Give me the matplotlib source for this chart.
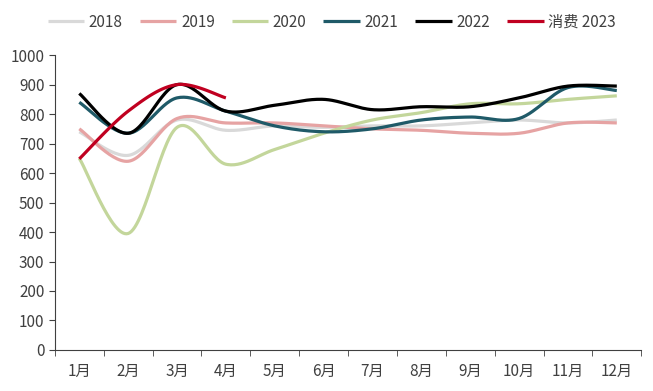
import numpy as np
import matplotlib
matplotlib.use("Agg")
import matplotlib.pyplot as plt

plt.rcParams['font.family'] = ['Noto Sans CJK SC', 'DejaVu Sans']

months = ["1月", "2月", "3月", "4月", "5月", "6月", "7月", "8月", "9月", "10月", "11月", "12月"]
s2018 = [740, 660, 780, 745, 760, 755, 760, 760, 770, 780, 770, 780]
s2019 = [750, 640, 785, 770, 770, 760, 750, 745, 735, 735, 770, 770]
s2020 = [650, 395, 755, 630, 680, 735, 780, 805, 835, 835, 850, 862]
s2021 = [840, 735, 855, 810, 760, 740, 750, 780, 790, 785, 890, 880]
s2022 = [870, 735, 900, 810, 830, 850, 815, 825, 825, 855, 895, 895]
s2023 = [648, 810, 900, 855]

series = [("2018", s2018, "#d9d9d9"), ("2019", s2019, "#e6a3a3"),
          ("2020", s2020, "#c3d69b"), ("2021", s2021, "#1f5a68"),
          ("2022", s2022, "#000000"), ("消费 2023", s2023, "#c00020")]


def smooth(x, y, n=30):
    x = np.asarray(x, float); y = np.asarray(y, float)
    px = np.concatenate([[x[0]], x, [x[-1]]])
    py = np.concatenate([[y[0]], y, [y[-1]]])
    xs, ys = [], []
    for i in range(len(x) - 1):
        p0 = np.array([px[i], py[i]]); p1 = np.array([px[i + 1], py[i + 1]])
        p2 = np.array([px[i + 2], py[i + 2]]); p3 = np.array([px[i + 3], py[i + 3]])
        c1 = p1 + (p2 - p0) / 6.0
        c2 = p2 - (p3 - p1) / 6.0
        t = np.linspace(0, 1, n)[:, None]
        b = (1 - t) ** 3 * p1 + 3 * (1 - t) ** 2 * t * c1 + 3 * (1 - t) * t ** 2 * c2 + t ** 3 * p2
        xs.append(b[:, 0]); ys.append(b[:, 1])
    return np.concatenate(xs), np.concatenate(ys)


fig = plt.figure(figsize=(6.53, 3.91), dpi=100)
ax = fig.add_axes([0.084, 0.105, 0.898, 0.754])

for name, vals, col in series:
    sx, sy = smooth(np.arange(len(vals)), vals)
    ax.plot(sx, sy, color=col, lw=2.3, label=name, solid_capstyle='butt')

ax.set_xlim(-0.5, 11.5)
ax.set_ylim(0, 1000)
ax.set_yticks(np.arange(0, 1001, 100))
ax.set_xticks(np.arange(12))
ax.set_xticklabels(months)
ax.set_xticks(np.arange(-0.5, 12, 1), minor=True)
ax.tick_params(axis='x', which='major', length=0, pad=9, labelsize=11, labelcolor='#404040')
ax.tick_params(axis='x', which='minor', length=4, direction='out', color='#404040')
ax.tick_params(axis='y', length=4, direction='out', labelsize=11, labelcolor='#404040', color='#404040')
for s in ['top', 'right']:
    ax.spines[s].set_visible(False)
for s in ['left', 'bottom']:
    ax.spines[s].set_color('#404040')

leg = fig.legend(loc='upper center', bbox_to_anchor=(0.508, 1.0), ncol=6, frameon=False,
                 fontsize=11, handlelength=2.4, columnspacing=1.1, handletextpad=0.3)
for t in leg.get_texts():
    t.set_color('#404040')

fig.savefig("out.png", dpi=100)
